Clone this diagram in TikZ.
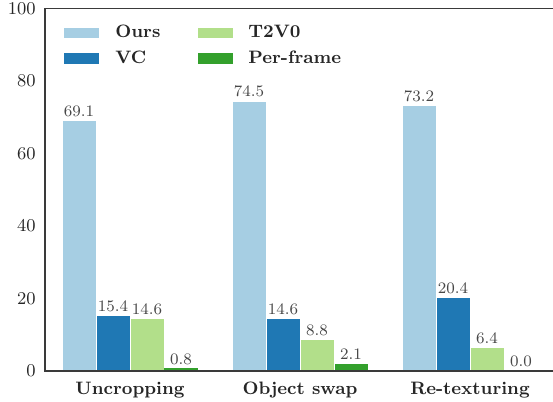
\documentclass[tikz,border=0pt]{standalone}
\usepackage{xcolor}
\definecolor{oursblue}{HTML}{A6CEE3}
\definecolor{vcblue}{HTML}{1F78B4}
\definecolor{tvgreen}{HTML}{B2DF8A}
\definecolor{pfgreen}{HTML}{33A02C}
\definecolor{spinegray}{HTML}{3A3A3A}
\definecolor{textgray}{HTML}{262626}
\tikzset{
  spine/.style={draw=spinegray, line width=0.7pt},
  bar/.style={draw=white, line width=0.3pt},
  ticklabel/.style={anchor=east, text=textgray, font=\fontsize{9}{10}\selectfont, inner sep=0pt},
  grouplabel/.style={anchor=base, text=textgray, font=\fontsize{9}{10}\selectfont\bfseries, inner sep=0pt},
  vallabel/.style={anchor=base, text=textgray!85, font=\fontsize{8}{9}\selectfont, inner sep=0pt, yshift=2pt},
  legendlabel/.style={anchor=base west, text=textgray, font=\fontsize{9}{10}\selectfont\bfseries, inner sep=0pt}
}
\begin{document}
\begin{tikzpicture}[x=0.5pt, y=0.5pt]
\useasboundingbox (0,0) rectangle (553,402);
% bars, values in data units
\begin{scope}[yshift=15.5pt, y=1.8125pt]
% Uncropping
\filldraw[bar, fill=oursblue] (62,0) rectangle (96,69.1);
\filldraw[bar, fill=vcblue] (96,0) rectangle (130,15.4);
\filldraw[bar, fill=tvgreen] (130,0) rectangle (164,14.6);
\fill[pfgreen] (164.2,0) rectangle (197.8,0.8);
\node[vallabel] (v11) at (79,69.1) {69.1};
\node[vallabel] (v12) at (113,15.4) {15.4};
\node[vallabel] (v13) at (147,14.6) {14.6};
\node[vallabel] (v14) at (181,0.8) {0.8};
% Object swap
\filldraw[bar, fill=oursblue] (232,0) rectangle (266,74.5);
\filldraw[bar, fill=vcblue] (266,0) rectangle (300,14.6);
\filldraw[bar, fill=tvgreen] (300,0) rectangle (334,8.8);
\filldraw[bar, fill=pfgreen] (334,0) rectangle (368,2.1);
\node[vallabel] (v21) at (249,74.5) {74.5};
\node[vallabel] (v22) at (283,14.6) {14.6};
\node[vallabel] (v23) at (317,8.8) {8.8};
\node[vallabel] (v24) at (351,2.1) {2.1};
% Re-texturing
\filldraw[bar, fill=oursblue] (402,0) rectangle (436,73.2);
\filldraw[bar, fill=vcblue] (436,0) rectangle (470,20.4);
\filldraw[bar, fill=tvgreen] (470,0) rectangle (504,6.4);
\node[vallabel] (v31) at (419,73.2) {73.2};
\node[vallabel] (v32) at (453,20.4) {20.4};
\node[vallabel] (v33) at (487,6.4) {6.4};
\node[vallabel] (v34) at (521,0.0) {0.0};
% tick labels
\node[ticklabel] (t0) at (36,0) {0};
\node[ticklabel] (t20) at (36,20) {20};
\node[ticklabel] (t40) at (36,40) {40};
\node[ticklabel] (t60) at (36,60) {60};
\node[ticklabel] (t80) at (36,80) {80};
\node[ticklabel] (t100) at (36,100) {100};
\end{scope}
% spines
\draw[spine] (560,31) -- (45,31) -- (45,393.5) -- (560,393.5);
% group labels
\node[grouplabel] (g1) at (130,7) {Uncropping};
\node[grouplabel] (g2) at (300,7) {Object swap};
\node[grouplabel] (g3) at (470,7) {Re-texturing};
% legend
\filldraw[bar, fill=oursblue] (63,364) rectangle (99,375);
\filldraw[bar, fill=vcblue] (63,338) rectangle (99,350);
\filldraw[bar, fill=tvgreen] (197,364) rectangle (233,375);
\filldraw[bar, fill=pfgreen] (197,338) rectangle (233,350);
\node[legendlabel] (l1) at (115,364) {Ours};
\node[legendlabel] (l2) at (115,338) {VC};
\node[legendlabel] (l3) at (248,364) {T2V0};
\node[legendlabel] (l4) at (248,338) {Per-frame};
\end{tikzpicture}
\end{document}
